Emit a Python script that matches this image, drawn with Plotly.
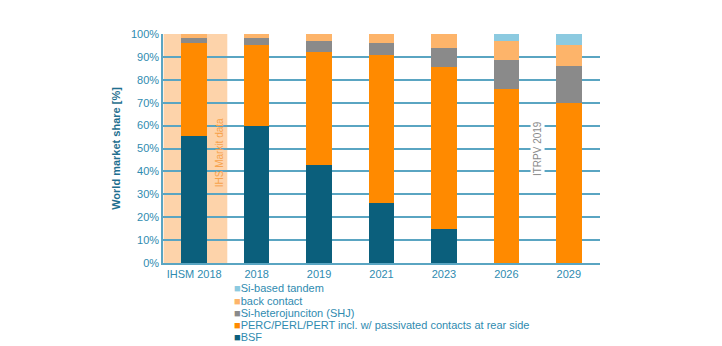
import plotly.graph_objects as go

# Categories and market share (%) per cell technology
categories = ["IHSM 2018", "2018", "2019", "2021", "2023", "2026", "2029"]
bsf = [55.5, 60, 43, 26, 15, 0, 0]
perc = [40.5, 35.2, 49.3, 64.9, 70.5, 76, 70]
shj = [2.2, 2.9, 4.6, 5.1, 8.4, 12.8, 16.2]
back_contact = [1.8, 1.9, 3.1, 4, 6.1, 8, 8.8]
tandem = [0, 0, 0, 0, 0, 3.2, 5]

series_names = [
    "BSF",
    "PERC/PERL/PERT incl. w/ passivated contacts at rear side",
    "Si-heterojunciton (SHJ)",
    "back contact",
    "Si-based tandem",
]
series_values = [bsf, perc, shj, back_contact, tandem]
series_colors = ["#0b5f7c", "#ff8a00", "#8a8a8a", "#fdb46a", "#8ccae0"]

y_ticks = [0, 10, 20, 30, 40, 50, 60, 70, 80, 90, 100]
y_tick_labels = [f"{v}%" for v in y_ticks]

teal_text = "#2f8bb0"

W, H = 722, 346
M_L, M_R, M_T, M_B = 163, 122, 34, 83
plot_w = W - M_L - M_R
plot_h = H - M_T - M_B

fig = go.Figure()
for name, vals, col in zip(series_names, series_values, series_colors):
    fig.add_trace(go.Bar(
        x=categories, y=vals, name=name, marker_color=col,
        marker_line_width=0, width=0.41, showlegend=False,
    ))

# Light band marking the IHS Markit column
fig.add_shape(type="rect", xref="x", yref="paper", x0=-0.49, x1=0.53, y0=0, y1=1,
              fillcolor="#fdd3aa", line_width=0, layer="below")

fig.add_annotation(x=0.4, y=48, xref="x", yref="y", text="IHS Markit data",
                   textangle=-90, showarrow=False,
                   font=dict(family="Liberation Sans", size=10, color="#f7a24a"))
fig.add_annotation(x=5.5, y=50, xref="x", yref="y", text="ITRPV 2019",
                   textangle=-90, showarrow=False, bgcolor="white",
                   font=dict(family="Liberation Sans", size=10, color="#8a8a8a"))

# Legend, listed top to bottom below the plot (pixel positions)
legend_x_px = 232
legend_y_px = [288, 300.5, 312.5, 324.5, 336.5]
for name, col, yp in zip(series_names[::-1], series_colors[::-1], legend_y_px):
    fig.add_annotation(
        x=(legend_x_px - M_L) / plot_w, y=(H - M_B - yp) / plot_h,
        xref="paper", yref="paper",
        text=f"<span style='color:{col}'>■</span>{name}",
        showarrow=False, xanchor="left", yanchor="middle",
        font=dict(family="Liberation Sans", size=11, color=teal_text),
    )

fig.update_layout(
    width=W, height=H,
    margin=dict(l=M_L, r=M_R, t=M_T, b=M_B),
    barmode="stack",
    bargap=0.59,
    plot_bgcolor="white", paper_bgcolor="white",
    font=dict(family="Liberation Sans", size=11, color=teal_text),
    xaxis=dict(
        showgrid=False, showline=True, linecolor="#5aa5c2", linewidth=1.5,
        tickfont=dict(family="Liberation Sans", size=11, color=teal_text),
        ticks="", fixedrange=True,
    ),
    yaxis=dict(
        range=[0, 100], tickvals=y_ticks, ticktext=y_tick_labels,
        showgrid=True, gridcolor="#5aa5c2", gridwidth=1.5,
        showline=True, linecolor="#5aa5c2", linewidth=1.5,
        zeroline=False, ticks="",
        tickfont=dict(family="Liberation Sans", size=11, color=teal_text),
        title=dict(text="<b>World market share [%]</b>", standoff=8,
                   font=dict(family="Liberation Sans", size=11, color="#1f6f8f")),
    ),
)

fig.write_html("out.html")
